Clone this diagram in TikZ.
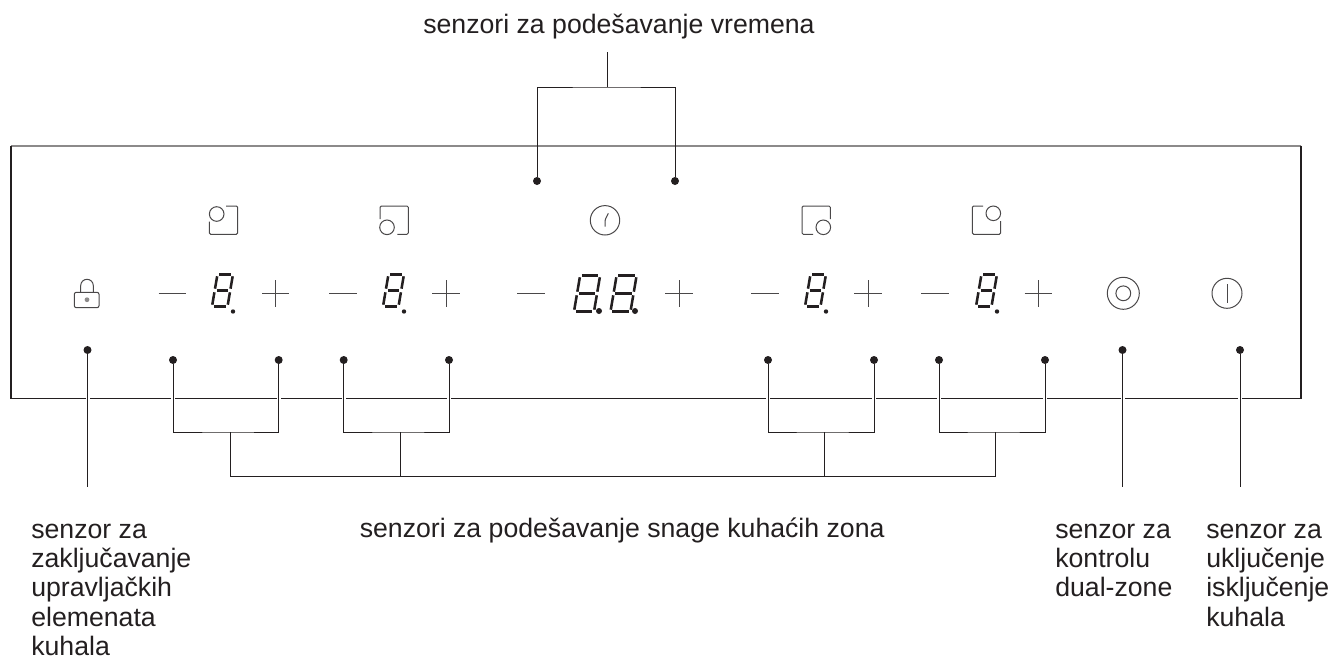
\documentclass[tikz,border=0pt]{standalone}
\usepackage{fontspec}
\setmainfont{Liberation Sans}
\definecolor{inkblack}{HTML}{231F20}
\definecolor{panelgray}{HTML}{8C8A8A}
\definecolor{icongray}{HTML}{4A4849}
\def\segdigit(#1,#2)(#3,#4){
	\begin{scope}[shift={(#1,#2)},xslant=0.17,line width=1.9pt,color=inkblack]
		\draw ({1.8},0) -- ({#3-1.8},0);
		\draw ({1.8},{-#4/2}) -- ({#3-1.8},{-#4/2});
		\draw ({1.8},{-#4}) -- ({#3-1.8},{-#4});
		\draw (0,-1.8) -- (0,{-#4/2+1.8});
		\draw (0,{-#4/2-1.8}) -- (0,{-#4+1.8});
		\draw (#3,-1.8) -- (#3,{-#4/2+1.8});
		\draw (#3,{-#4/2-1.8}) -- (#3,{-#4+1.8});
	\end{scope}
}
\tikzset{
	sensdot/.style={circle,fill=inkblack,inner sep=0pt,minimum size=6pt},
	leader/.style={draw=inkblack,line width=0.75pt},
	crossing/.style={leader,preaction={draw=white,line width=3pt}},
	iconline/.style={draw=icongray,line width=0.75pt,rounded corners=1pt},
	caption/.style={inner sep=0pt,text=inkblack,align=left,anchor=north west,font=\fontsize{20}{22}\selectfont},
}
\begin{document}
\begin{tikzpicture}[x=0.75pt,y=-0.75pt]
		\useasboundingbox (0,0) rectangle (1332,657);
		
		%%%%% panel %%%%%
		\draw[panelgray,line width=1.2pt] (11,146) -- (1301,146);
		\draw[inkblack,line width=0.6pt] (11,398) -- (1301,398);
		\draw[inkblack,line width=1.5pt] (11,145.5) -- (11,398.5);
		\draw[inkblack,line width=1.5pt] (1301,145.5) -- (1301,398.5);
		
		%%%%% zone icons %%%%%
		\draw[iconline] (226,206) -- (237.7,206) -- (237.7,234.3) -- (209.3,234.3) -- (209.3,221.7);
		\draw[iconline] (216.7,214) circle (7.3);
		\draw[iconline] (380,219) -- (380,206) -- (408.3,206) -- (408.3,234.3) -- (397.3,234.3);
		\draw[iconline] (387,227.3) circle (7.3);
		\draw[iconline] (830.3,219) -- (830.3,206) -- (802,206) -- (802,234.3) -- (813,234.3);
		\draw[iconline] (823.3,227.3) circle (7.3);
		\draw[iconline] (983,206) -- (972.3,206) -- (972.3,234.3) -- (1000.7,234.3) -- (1000.7,221);
		\draw[iconline] (993.3,213.3) circle (7.3);
		
		% clock
		\draw[iconline] (605,220.3) circle (14.7);
		\draw[iconline] (605,226.7) -- (605,220) -- (608.3,213.3);
		
		% lock
		\draw[iconline,rounded corners=1.5pt] (74.3,292.3) rectangle (99,307.7);
		\draw[iconline,rounded corners=0pt] (80.7,292.3) -- (80.7,285.6) arc (180:360:6.3) -- (93.3,292.3);
		\fill[panelgray] (87,299.7) circle (2.4);
		
		% dual zone, on/off
		\draw[iconline] (1123.3,293.3) circle (16);
		\draw[iconline] (1123.3,293.3) circle (7.4);
		\draw[iconline] (1227,293.3) circle (15);
		\draw[iconline] (1227,284) -- (1227,303);
		
		%%%%% minus, digit, plus %%%%%
		\foreach \mx/\dx/\px in {158.5/212/275.7,329/383/446,751/805/868,921/976/1038.3}{
			\draw[iconline] (\mx,293.7) -- ++(27.5,0);
			\segdigit(\dx,306.5)(15.5,32)
			\fill[inkblack] (\dx+21,311.5) circle (2.2);
			\draw[iconline] (\px-13.7,293.7) -- ++(27.4,0);
			\draw[iconline] (\px,280) -- (\px,307);
		}
		\draw[iconline] (517.3,293.7) -- ++(27.4,0);
		\segdigit(574,311.5)(20,36)
		\segdigit(610.5,311.5)(20,36)
		\fill[inkblack] (599,311) circle (3);
		\fill[inkblack] (635,311) circle (3);
		\draw[iconline] (665.3,293.7) -- ++(27.4,0);
		\draw[iconline] (679,280.3) -- (679,307);
		
		%%%%% sensors %%%%%
		\node[sensdot] (lockdot) at (87.5,350) {};
		\node[sensdot] (zoneAminus) at (173,360) {};
		\node[sensdot] (zoneAplus) at (278.7,360) {};
		\node[sensdot] (zoneBminus) at (343.7,360) {};
		\node[sensdot] (zoneBplus) at (449,360) {};
		\node[sensdot] (zoneCminus) at (768,360) {};
		\node[sensdot] (zoneCplus) at (874,360) {};
		\node[sensdot] (zoneDminus) at (939,360) {};
		\node[sensdot] (zoneDplus) at (1045,360) {};
		\node[sensdot] (dualdot) at (1122.5,350) {};
		\node[sensdot] (powerdot) at (1240,350) {};
		\node[sensdot] (timeminus) at (537,181) {};
		\node[sensdot] (timeplus) at (675,181) {};
		
		\coordinate (lockend) at (87.5,487);
		\coordinate (dualend) at (1122.5,487);
		\coordinate (powerend) at (1240,487);
		\coordinate (timetop) at (607,52);
		\coordinate (timejoin) at (607,87);
		\coordinate (joinA) at (230,432);
		\coordinate (joinB) at (400,432);
		\coordinate (joinC) at (824,432);
		\coordinate (joinD) at (995,432);
		\coordinate (mainA) at (230,476);
		\coordinate (mainB) at (400,476);
		\coordinate (mainC) at (824,476);
		\coordinate (mainD) at (995,476);
		
		\draw[crossing] (lockdot) -- (lockend);
		\draw[crossing] (dualdot) -- (dualend);
		\draw[crossing] (powerdot) -- (powerend);
		\draw[crossing] (zoneAminus) |- (joinA) -| (zoneAplus);
		\draw[crossing] (zoneBminus) |- (joinB) -| (zoneBplus);
		\draw[crossing] (zoneCminus) |- (joinC) -| (zoneCplus);
		\draw[crossing] (zoneDminus) |- (joinD) -| (zoneDplus);
		\draw[leader] (joinA) -- (mainA) -- (mainD) -- (joinD);
		\draw[leader] (joinB) -- (mainB);
		\draw[leader] (joinC) -- (mainC);
		\draw[leader] (timetop) -- (timejoin);
		\draw[leader] (timeminus) |- (timejoin) -| (timeplus);
		
		%%%%% labels %%%%%
		\node[caption] (timelabel) at (423,14) {senzori za podešavanje vremena};
		\node[caption] (powerlabel) at (359.5,517.5) {senzori za podešavanje snage kuhaćih zona};
		\node[caption] (locklabel) at (31,523.5) {senzor za\\zaključavanje\\upravljačkih\\elemenata\\kuhala};
		\node[caption] (duallabel) at (1055,523.5) {senzor za\\kontrolu\\dual-zone};
		\node[caption] (onofflabel) at (1206,523.5) {senzor za\\uključenje\\isključenje\\kuhala};
		
		%%%%% END %%%%%
	\end{tikzpicture}
\end{document}
